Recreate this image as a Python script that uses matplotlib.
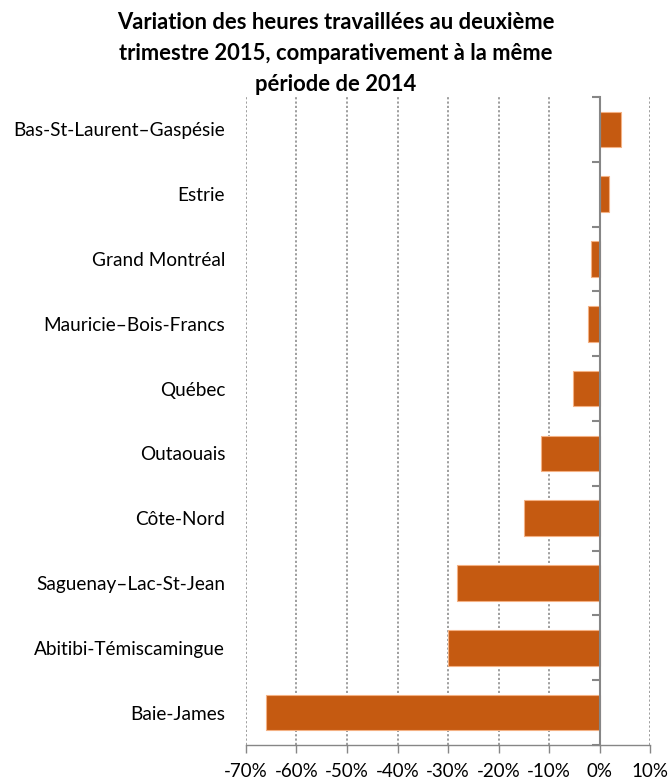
import matplotlib
matplotlib.use("Agg")
import matplotlib.pyplot as plt
import numpy as np

plt.rcParams['font.family'] = ['Lato', 'DejaVu Sans']

categories = ["Bas-St-Laurent–Gaspésie", "Estrie", "Grand Montréal",
              "Mauricie–Bois-Francs", "Québec", "Outaouais", "Côte-Nord",
              "Saguenay–Lac-St-Jean", "Abitibi-Témiscamingue", "Baie-James"]
values = [4.2, 1.9, -1.6, -2.3, -5.2, -11.6, -15.0, -28.3, -30.0, -66.0]
xticks = [-70, -60, -50, -40, -30, -20, -10, 0, 10]
title = "Variation des heures travaillées au deuxième\ntrimestre 2015, comparativement à la même\npériode de 2014"

fig = plt.figure(figsize=(6.71, 7.80), dpi=100)
ax = fig.add_axes([246/671, 1-745/780, (650-246)/671, (745-97)/780])

y = np.arange(len(categories))
ax.barh(y, values, height=0.55, color="#C55A11", edgecolor="#F4B183", linewidth=0.8, zorder=3)
ax.set_ylim(len(categories)-0.5, -0.5)
ax.set_xlim(-70, 10)
ax.set_xticks(xticks)
ax.set_xticklabels([f"{t}%" for t in xticks], fontsize=13.5)
ax.set_yticks(y)
ax.set_yticklabels(categories, fontsize=13.7)
ax.tick_params(axis='y', length=0, pad=15)
ax.tick_params(axis='x', direction='out', length=6, color='#868686', width=1, pad=7)
ax.xaxis.grid(True, linestyle=(0, (1.2, 1.2)), color='#969696', linewidth=1.3, zorder=0)
for s in ['top', 'right', 'left']:
    ax.spines[s].set_visible(False)
ax.spines['bottom'].set_color('#868686')
ax.spines['bottom'].set_linewidth(1)

sec = ax.secondary_yaxis(0.875)
sec.set_yticks(np.arange(len(categories)+1) - 0.5)
sec.yaxis.set_ticks_position('left')
sec.set_yticklabels([])
sec.tick_params(axis='y', which='both', direction='out', length=6, color='#868686', width=1.5,
                left=True, right=False, labelleft=False, labelright=False)
for s in sec.spines.values():
    s.set_color('#868686')
    s.set_linewidth(1.5)
sec.set_zorder(4)

fig.text(0.5, 0.985, title, ha='center', va='top', fontsize=15.8, fontweight='bold', linespacing=1.6)

fig.savefig("out.png", dpi=100)
